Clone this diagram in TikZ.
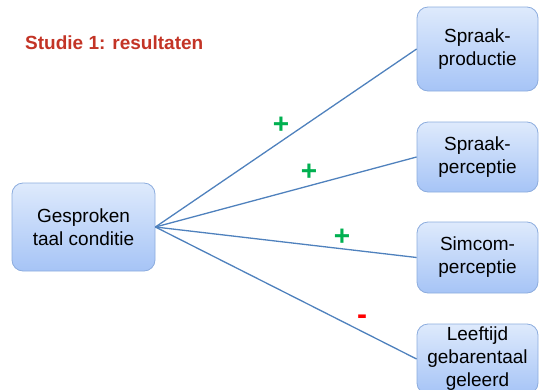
\documentclass[tikz,border=0pt]{standalone}
\usepackage{fontspec}
\setmainfont{Liberation Sans}
\definecolor{titlered}{RGB}{195,52,38}
\definecolor{boxtop}{RGB}{222,234,252}
\definecolor{boxbot}{RGB}{166,196,246}
\definecolor{boxline}{RGB}{140,172,222}
\definecolor{conn}{RGB}{79,129,189}
\definecolor{plusgreen}{RGB}{0,176,80}
\definecolor{minusred}{RGB}{255,0,0}
\tikzset{
  box/.style={draw=boxline, line width=0.8pt, rounded corners=11pt,
    top color=boxtop, bottom color=boxbot, inner sep=0pt,
    align=center, font=\fontsize{19}{23}\selectfont},
  conline/.style={draw=conn, line width=1.3pt},
  signp/.style={text=plusgreen, font=\fontsize{28}{28}\bfseries\selectfont, inner sep=0pt},
  signm/.style={text=minusred, font=\fontsize{30}{30}\bfseries\selectfont, inner sep=0pt}
}
\begin{document}
\begin{tikzpicture}[x=1pt,y=-1pt]
\useasboundingbox (0,0) rectangle (544,389);
\node[anchor=west, text=titlered, font=\fontsize{19}{22}\bfseries\selectfont, inner sep=0pt] (title) at (25,43) {Studie 1: resultaten};
\node[box, minimum width=143pt, minimum height=88pt] (g) at (83.5,227) {Gesproken\\taal conditie};
\node[box, minimum width=121pt, minimum height=84pt] (b1) at (477.5,49) {Spraak-\\productie};
\node[box, minimum width=121pt, minimum height=70pt] (b2) at (477.5,157) {Spraak-\\perceptie};
\node[box, minimum width=121pt, minimum height=71pt] (b3) at (477.5,257.5) {Simcom-\\perceptie};
\node[box, minimum width=121pt, minimum height=70pt] (b4) at (477.5,359) {Leeftijd\\gebarentaal\\geleerd};
\draw[conline] (g.east) -- (b1.west);
\draw[conline] (g.east) -- (b2.west);
\draw[conline] (g.east) -- (b3.west);
\draw[conline] (g.east) -- (b4.west);
\node[signp] (p1) at (281,125) {+};
\node[signp] (p2) at (309,172) {+};
\node[signp] (p3) at (342,237) {+};
\node[signm] (m1) at (362,320) {-};
\end{tikzpicture}
\end{document}
